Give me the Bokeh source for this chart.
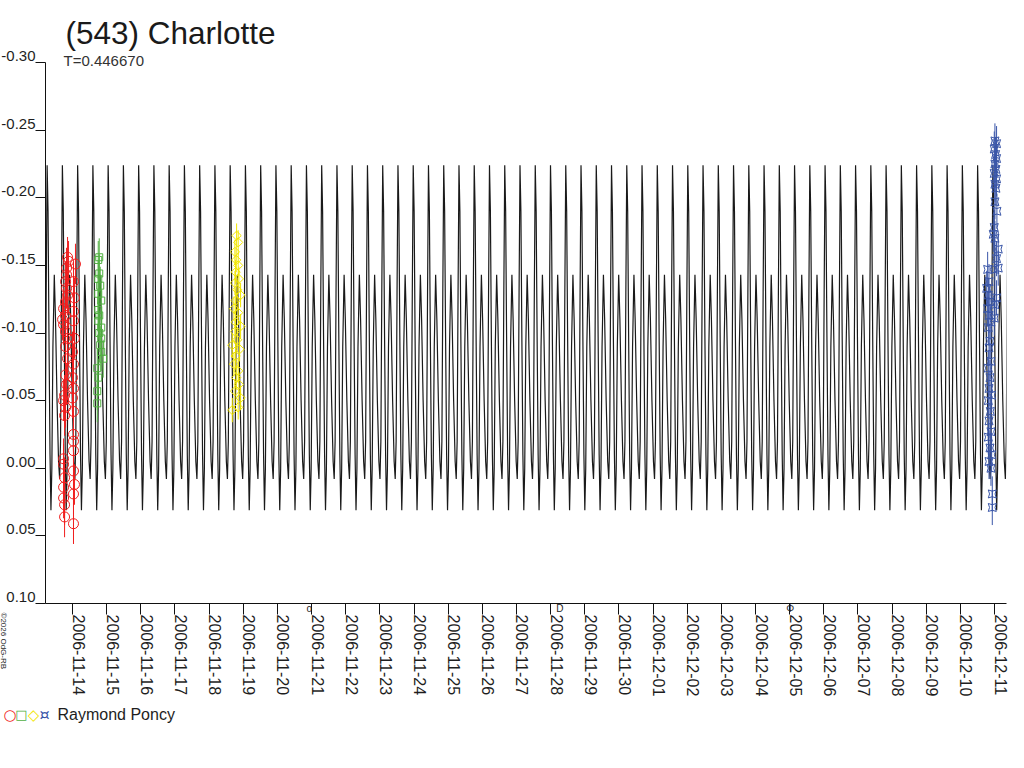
import math
from datetime import date
from bokeh.plotting import figure
from bokeh.models import Range1d, FixedTicker, ColumnDataSource, LinearAxis, Title
from bokeh.core.properties import value
from bokeh.embed import file_html
from bokeh.resources import INLINE

# ---------------- data ----------------
TITLE = "(543) Charlotte"
SUBTITLE = "T=0.446670"
OBSERVER = "Raymond Poncy"
CREDIT = "\u00a92026 OdG-RB"

# model light curve: period (days), epoch of primary maximum (MJD), one-period profile
PERIOD = 0.446670
EPOCH_MJD = 54062.977
PHASE = [0.00, 0.06, 0.12, 0.19, 0.25, 0.31, 0.38, 0.47, 0.55, 0.65, 0.75, 0.82, 0.88, 0.94]
PHASE_MAG = [-0.224, -0.190, -0.100, -0.010, 0.031, 0.000, -0.090, -0.143, -0.110, -0.050, -0.005, 0.008, -0.020, -0.130]

# observations (MJD - 54000, relative magnitude)
MJD_BASE = 54000.0
RED_MJD = [52.855, 52.884, 52.826, 52.826, 52.797, 52.826, 52.855, 52.797, 52.739, 52.797,
           52.710, 52.739, 52.797, 52.855, 52.797, 52.855, 52.797, 52.826, 52.768, 52.739,
           52.797, 52.768, 52.739, 52.739, 52.768, 52.739, 52.739, 52.768, 52.768,
           53.087, 53.029, 53.058, 53.029, 53.029, 53.058, 53.000, 53.029, 53.000, 53.029,
           53.000, 53.029, 53.029, 53.029, 53.029, 53.029, 53.058, 53.029, 53.029]
RED_MAG = [-0.156, -0.153, -0.148, -0.143, -0.138, -0.133, -0.128, -0.123, -0.118, -0.113,
           -0.110, -0.106, -0.101, -0.096, -0.090, -0.081, -0.069, -0.062, -0.054, -0.050,
           -0.045, -0.039, -0.007, -0.003, 0.007, 0.014, 0.022, 0.027, 0.036,
           -0.151, -0.138, -0.126, -0.116, -0.109, -0.096, -0.086, -0.077, -0.067, -0.059,
           -0.052, -0.042, -0.025, -0.020, -0.013, 0.002, 0.012, 0.019, 0.041]
RED_ERR = 0.015

GREEN_MJD = [53.783, 53.754, 53.783, 53.754, 53.812, 53.754, 53.841, 53.754, 53.783, 53.754,
             53.841, 53.783, 53.841, 53.812, 53.841, 53.899, 53.725, 53.754, 53.725, 53.725]
GREEN_MAG = [-0.156, -0.154, -0.144, -0.140, -0.135, -0.129, -0.124, -0.117, -0.113, -0.109,
             -0.104, -0.100, -0.096, -0.091, -0.086, -0.081, -0.074, -0.067, -0.057, -0.048]
GREEN_ERR = 0.014

YELLOW_MJD = [57.806, 57.852, 57.756, 57.794, 57.852, 57.777, 57.872, 57.756, 57.823, 57.922,
              57.777, 57.727, 57.852, 57.777, 57.922, 57.756, 57.823, 57.678, 57.893, 57.777,
              57.727, 57.852, 57.794, 57.872, 57.756, 57.922, 57.852, 57.678]
YELLOW_MAG = [-0.172, -0.167, -0.160, -0.154, -0.150, -0.145, -0.140, -0.137, -0.132, -0.128,
              -0.124, -0.118, -0.115, -0.108, -0.105, -0.101, -0.095, -0.091, -0.088, -0.083,
              -0.077, -0.072, -0.067, -0.062, -0.057, -0.052, -0.045, -0.043]
YELLOW_ERR = 0.009

BLUE_MJD = [80.011, 80.059, 79.992, 80.030, 80.059, 80.011, 80.040, 79.992, 80.059, 80.011,
            80.040, 80.011, 80.069, 79.992, 79.963, 80.011, 80.108, 80.059, 80.108, 80.011,
            80.059, 80.011, 79.992,
            79.798, 79.838, 79.770, 79.818, 79.866, 79.798, 79.838, 79.895, 79.818, 79.866,
            79.838, 79.895, 79.818, 79.866, 79.838, 79.914, 79.818, 79.876, 79.838, 79.895,
            79.818, 79.866, 79.914, 79.838, 79.895, 79.934, 79.934]
BLUE_MAG = [-0.242, -0.240, -0.236, -0.232, -0.229, -0.225, -0.221, -0.218, -0.214, -0.210,
            -0.207, -0.197, -0.190, -0.178, -0.173, -0.170, -0.162, -0.155, -0.148, -0.147,
            -0.126, -0.121, -0.111,
            -0.147, -0.138, -0.133, -0.128, -0.123, -0.118, -0.113, -0.108, -0.104, -0.094,
            -0.089, -0.079, -0.074, -0.067, -0.059, -0.054, -0.050, -0.042, -0.035, -0.027,
            -0.023, -0.015, -0.010, -0.005, 0.000, 0.019, 0.029]
BLUE_ERR = 0.013

# axes
X_TICK_LABELS = ["2006-11-14", "2006-11-15", "2006-11-16", "2006-11-17", "2006-11-18",
                 "2006-11-19", "2006-11-20", "2006-11-21", "2006-11-22", "2006-11-23",
                 "2006-11-24", "2006-11-25", "2006-11-26", "2006-11-27", "2006-11-28",
                 "2006-11-29", "2006-11-30", "2006-12-01", "2006-12-02", "2006-12-03",
                 "2006-12-04", "2006-12-05", "2006-12-06", "2006-12-07", "2006-12-08",
                 "2006-12-09", "2006-12-10", "2006-12-11"]
Y_TICKS = [-0.30, -0.25, -0.20, -0.15, -0.10, -0.05, 0.00, 0.05, 0.10]
Y_TICK_LABELS = ["-0.30", "-0.25", "-0.20", "-0.15", "-0.10", "-0.05", "0.00", "0.05", "0.10"]

# moon phases (MJD) and their symbols
MOON_MJD = [54059.93, 54067.27, 54074.02]
MOON_SYM = ["o", "D", "\u03a6"]

# ---------------- styling / layout ----------------
PX_PER_DAY = 34.15
FRAME_L, FRAME_R = 45, 1006
X_START = 54053 - 27 / PX_PER_DAY
X_END = X_START + (FRAME_R - FRAME_L) / PX_PER_DAY
Y_BOTTOM, Y_TOP = 0.10, -0.30
FONT = "Liberation Sans"
C_RED, C_GREEN, C_YELLOW, C_BLUE = "#f01e1e", "#52b043", "#f2e600", "#3a56a8"
C_TEXT = "#1e1e1e"
C_AXIS = "#111111"


def mjd_of(s):
    y, m, d = (int(v) for v in s.split("-"))
    return (date(y, m, d) - date(1858, 11, 17)).days


X_TICKS = [mjd_of(s) for s in X_TICK_LABELS]
LABEL_SHIFT = 6 / PX_PER_DAY  # date labels sit just right of their tick

p = figure(width=1008, height=752, output_backend="svg", toolbar_location=None, title=None,
           x_range=Range1d(X_START, X_END), y_range=Range1d(Y_BOTTOM, Y_TOP),
           x_axis_location=None, y_axis_location=None,
           min_border_left=FRAME_L, min_border_right=1008 - FRAME_R,
           min_border_top=60, min_border_bottom=149)
p.extra_x_ranges = {"labels": Range1d(X_START - LABEL_SHIFT, X_END - LABEL_SHIFT)}
p.outline_line_color = None
p.grid.visible = False
p.background_fill_color = "white"
p.border_fill_color = "white"


def tick_axis(ticks, tick_out):
    ax = LinearAxis(ticker=FixedTicker(ticks=ticks),
                    major_label_overrides={t: "" for t in ticks})
    ax.major_label_text_font_size = "0px"
    ax.major_label_standoff = 0
    ax.major_tick_out = tick_out
    ax.major_tick_in = 0
    ax.minor_tick_line_color = None
    ax.axis_line_color = C_AXIS
    ax.major_tick_line_color = C_AXIS
    return ax


p.add_layout(tick_axis(Y_TICKS, 10), "left")
p.add_layout(tick_axis(X_TICKS, 11), "below")

# date labels (own axis, shifted so each label sits just right of its tick)
dax = LinearAxis(x_range_name="labels", ticker=FixedTicker(ticks=X_TICKS),
                 major_label_overrides=dict(zip(X_TICKS, X_TICK_LABELS)))
dax.major_label_orientation = -math.pi / 2
dax.major_label_text_font = FONT
dax.major_label_text_font_size = "16px"
dax.major_label_text_color = C_TEXT
dax.major_label_standoff = 0
dax.major_tick_out = 0
dax.major_tick_in = 0
dax.major_tick_line_color = None
dax.minor_tick_line_color = None
dax.axis_line_color = None
p.add_layout(dax, "below")

# title
p.add_layout(Title(text=TITLE, align="left", offset=20, standoff=24, text_font=FONT,
                   text_font_size="31.5px", text_font_style="normal", text_color="#1a1a1a"), "above")

# model curve
k0 = math.floor((X_START - EPOCH_MJD) / PERIOD) - 1
k1 = math.ceil((X_END - EPOCH_MJD) / PERIOD) + 1
curve_t, curve_m = [], []
for k in range(k0, k1 + 1):
    for ph, m in zip(PHASE, PHASE_MAG):
        curve_t.append(EPOCH_MJD + (k + ph) * PERIOD)
        curve_m.append(m)
p.line(curve_t, curve_m, line_color="#1a1a1a", line_width=1.2)

# observations
series = [
    (RED_MJD, RED_MAG, RED_ERR, C_RED, "circle", 10, 0.0),
    (GREEN_MJD, GREEN_MAG, GREEN_ERR, C_GREEN, "square", 7, 0.0),
    (YELLOW_MJD, YELLOW_MAG, YELLOW_ERR, C_YELLOW, "square", 6.5, math.pi / 4),
    (BLUE_MJD, BLUE_MAG, BLUE_ERR, C_BLUE, "square_pin", 8, 0.0),
]
for t, m, err, col, marker, size, ang in series:
    src = ColumnDataSource(dict(
        t=[MJD_BASE + v for v in t], m=m,
        lo=[v - err for v in m], hi=[v + err for v in m]))
    p.segment(x0="t", y0="lo", x1="t", y1="hi", source=src, line_color=col, line_width=1)
    p.scatter(x="t", y="m", source=src, marker=marker, size=size, angle=ang,
              line_color=col, fill_color=None, line_width=1)


def overlay_text(xs, ys, texts, dx, dy, size, color=C_TEXT, align="left",
                 baseline="middle", angle=0.0, font=FONT):
    # text drawn at the overlay level, anchored to data positions with pixel offsets
    p.text(x=list(xs), y=list(ys), text=list(texts), x_offset=dx, y_offset=dy, angle=angle,
           text_font=value(font), text_font_size=value(f"{size}px"), text_color=color,
           text_align=align, text_baseline=baseline, level="overlay")


# y tick labels: right of text 10px left of the axis, sitting just above the tick
overlay_text([X_START] * len(Y_TICKS), Y_TICKS, Y_TICK_LABELS, -10, -6.5, 15, align="right")

# moon phases just under the axis line
overlay_text(MOON_MJD, [Y_BOTTOM] * len(MOON_MJD), MOON_SYM, 0, 5, 10, align="center")

# subtitle
overlay_text([X_START], [Y_TOP], [SUBTITLE], 18, -2, 15, color="#333333")

# credit (rotated, reading downwards)
overlay_text([X_START], [Y_BOTTOM], [CREDIT], -42, 9, 8, angle=-math.pi / 2, baseline="alphabetic")

# legend: observer's symbols and name
legend_syms = [("\u25cb", C_RED, 15, -35.5), ("\u25a1", C_GREEN, 13, -24),
               ("\u25c7", C_YELLOW, 15, -12), ("\u00a4", C_BLUE, 16, -1)]
for sym, col, sz, dx in legend_syms:
    overlay_text([X_START], [Y_BOTTOM], [sym], dx, 111, sz, color=col, align="center",
                 font="DejaVu Sans")
overlay_text([X_START], [Y_BOTTOM], [OBSERVER], 12, 111, 16)

open("out.html", "w").write(file_html(p, INLINE))
